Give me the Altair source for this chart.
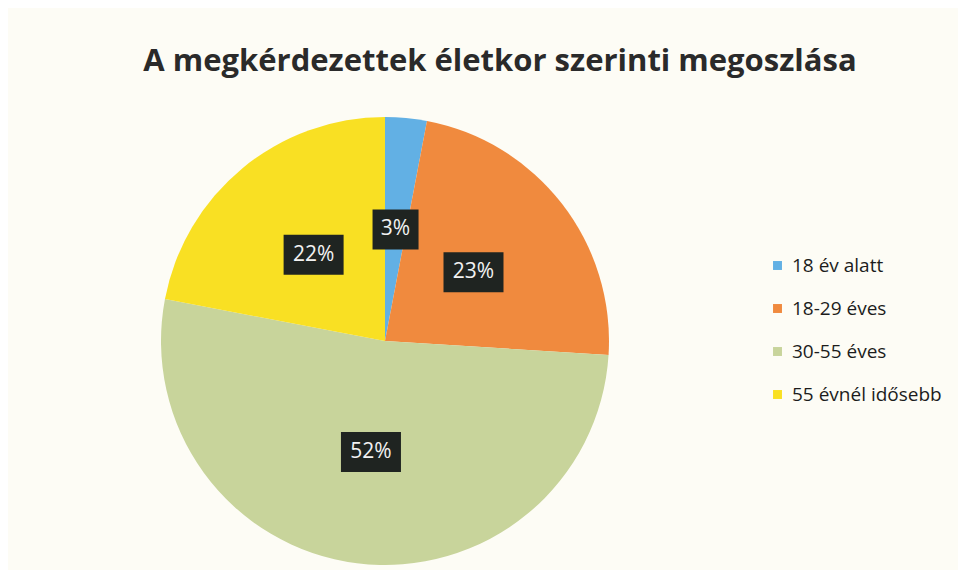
import altair as alt
import pandas as pd

categories = ["18 év alatt", "18-29 éves", "30-55 éves", "55 évnél idősebb"]
values = [3, 23, 52, 22]
labels = ["3%", "23%", "52%", "22%"]
colors = ["#62b0e4", "#f08a3e", "#c8d49b", "#f9e023"]

df = pd.DataFrame({"cat": categories, "val": values, "label": labels, "idx": list(range(len(categories)))})

R = 224
base = alt.Chart(df)

color = alt.Color(
    "cat:N",
    scale=alt.Scale(domain=categories, range=colors),
    sort=categories,
    legend=alt.Legend(
        title=None, orient="none", legendX=607, legendY=139,
        symbolType="square", symbolSize=80, symbolStrokeWidth=0,
        labelFont="Open Sans", labelFontSize=19, labelColor="#1c1c1c",
        rowPadding=23, labelOffset=5,
    ),
)

pie = base.mark_arc(outerRadius=R, stroke=None).encode(
    theta=alt.Theta("val:Q", stack=True),
    color=color,
    order=alt.Order("idx:Q"),
)

pos = (
    base.transform_window(cum="sum(val)", sort=[alt.SortField("idx")])
    .transform_joinaggregate(total="sum(val)")
    .transform_calculate(
        ang="2*PI*(datum.cum - datum.val/2)/datum.total",
        lx="0.5*sin(datum.ang)",
        ly="0.5*cos(datum.ang)",
        hw="(9 + 7*length(datum.label))/224",
        hh="20/224",
    )
    .transform_calculate(
        x1="datum.lx - datum.hw", x2="datum.lx + datum.hw",
        y1="datum.ly - datum.hh", y2="datum.ly + datum.hh",
    )
)

xs = alt.Scale(domain=[-1, 1], nice=False, zero=False)
ys = alt.Scale(domain=[-1, 1], nice=False, zero=False)

boxes = pos.mark_rect(color="#1f2421").encode(
    x=alt.X("x1:Q", scale=xs, axis=None), x2="x2:Q",
    y=alt.Y("y1:Q", scale=ys, axis=None), y2="y2:Q",
)
texts = pos.mark_text(color="#f2f2f2", fontSize=21, font="Open Sans").encode(
    x=alt.X("lx:Q", scale=xs, axis=None),
    y=alt.Y("ly:Q", scale=ys, axis=None),
    text="label:N",
)

chart = (
    alt.layer(pie, boxes, texts)
    .properties(
        width=2 * R,
        height=2 * R,
        title=alt.TitleParams(
            "A megkérdezettek életkor szerinti megoszlása",
            font="Open Sans", fontSize=31, fontWeight="bold", color="#2a2a2a",
            anchor="middle", dx=115, offset=39, frame="group",
        ),
        autosize=alt.AutoSizeParams(type="none"),
        padding={"left": 153, "top": 109, "right": 349, "bottom": 5},
        background="#fdfcf5",
    )
    .configure_view(stroke=None)
)

chart.save("out.html", embed_options={"renderer": "svg", "actions": False})
